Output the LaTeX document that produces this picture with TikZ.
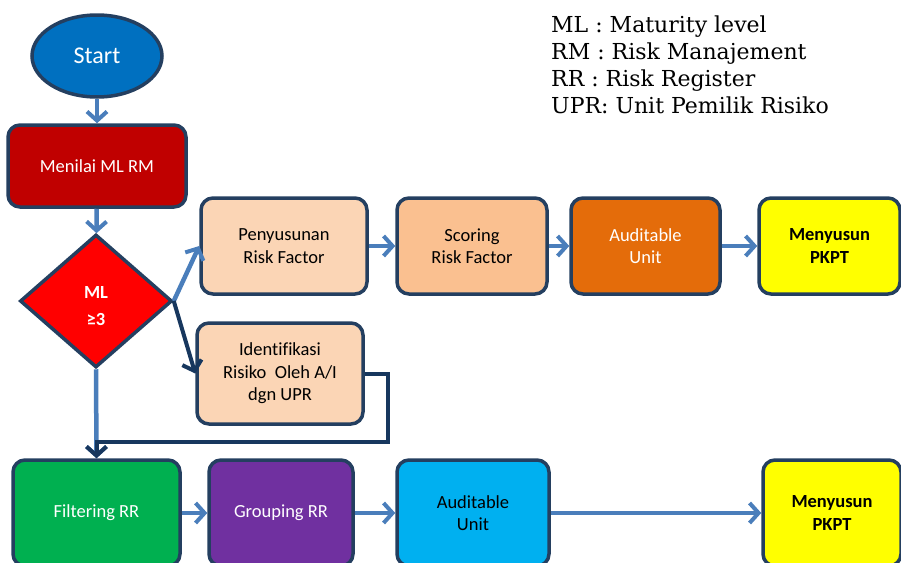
\documentclass[tikz,border=0pt]{standalone}
\usepackage{fontspec}
\setmainfont{Carlito}[Ligatures=NoCommon]
\newfontfamily\legendfont{DejaVu Serif}
\usetikzlibrary{shapes.geometric, arrows.meta, positioning}
\definecolor{edgedark}{RGB}{36, 63, 96}
\definecolor{flowblue}{RGB}{74, 126, 187}
\definecolor{flownavy}{RGB}{23, 55, 94}
\definecolor{startblue}{RGB}{0, 112, 192}
\definecolor{mlred}{RGB}{192, 0, 0}
\definecolor{peach}{RGB}{251, 213, 181}
\definecolor{peachdark}{RGB}{250, 192, 144}
\definecolor{unitorange}{RGB}{228, 108, 10}
\definecolor{pkptyellow}{RGB}{255, 255, 0}
\definecolor{rrgreen}{RGB}{0, 176, 80}
\definecolor{rrpurple}{RGB}{112, 48, 160}
\definecolor{unitcyan}{RGB}{0, 176, 240}
\tikzset{
    box/.style={
        rectangle, rounded corners=12pt, minimum width=150pt, minimum height=96pt,
        draw=edgedark, line width=3.5pt, text=black, font=\fontsize{18.5}{22.5}\selectfont,
        align=center, inner sep=2pt
    },
    whitebox/.style={box, text=white},
    pkptbox/.style={box, fill=pkptyellow, font=\fontsize{18.5}{22.5}\selectfont\bfseries},
    flowarrow/.style={-{Straight Barb[length=9pt, width=20pt, line width=4pt]}, line width=4.5pt, color=flowblue},
    navyarrow/.style={-{Straight Barb[length=9pt, width=20pt, line width=4pt]}, line width=4pt, color=flownavy},
    legend/.style={font=\legendfont\fontsize{22}{27}\selectfont, align=left, anchor=north west, inner sep=0pt},
}

\begin{document}
\begin{tikzpicture}[x=1pt, y=-1pt]
    \useasboundingbox (0,0) rectangle (901,562);
    \clip (0,0) rectangle (901,562);

    % legend
    \node[legend] (legend) at (551,16) {ML : Maturity level\\RM : Risk Manajement\\RR : Risk Register\\UPR: Unit Pemilik Risiko};

    % top part
    \node[ellipse, draw=edgedark, line width=3.5pt, fill=startblue, text=white, minimum width=130pt, minimum height=82pt, font=\fontsize{24}{28}\selectfont] (start) at (97,56) {Start};
    \node[whitebox, fill=mlred, minimum width=178pt, minimum height=82pt] (menilai) at (97,166) {Menilai ML RM};
    \node[diamond, draw=edgedark, line width=3.5pt, fill=red, text=white, minimum width=152pt, minimum height=133pt, inner sep=0pt, align=center, font=\fontsize{18.5}{27}\selectfont\bfseries] (ml) at (96,301) {\rule{0pt}{22pt}ML\\≥3};

    % ML >= 3 branch
    \node[box, fill=peach, minimum width=166pt] (susun) at (284,246) {Penyusunan\\Risk Factor};
    \node[box, fill=peachdark] (scoring) at (472,246) {Scoring\\Risk Factor};
    \node[whitebox, fill=unitorange, minimum width=149pt] (unitA) at (645.5,246) {Auditable\\Unit};
    \node[pkptbox, minimum width=141pt] (pkptA) at (829.5,246) {Menyusun\\PKPT};
    \node[box, fill=peach, minimum width=166pt, minimum height=101pt] (ident) at (280,373.5) {Identifikasi\\Risiko\ \ Oleh A/I\\dgn UPR};

    % RR branch
    \node[whitebox, fill=rrgreen, minimum width=167pt, minimum height=106pt] (filter) at (96.5,513) {Filtering RR};
    \node[whitebox, fill=rrpurple, minimum width=144pt, minimum height=106pt] (group) at (281,513) {Grouping RR};
    \node[box, fill=unitcyan, minimum width=152pt, minimum height=106pt] (unitB) at (473,513) {Auditable\\Unit};
    \node[pkptbox, minimum width=138pt, minimum height=106pt] (pkptB) at (832,513) {Menyusun\\PKPT};

    \coordinate (loop) at (388,442);

    % connectors
    \draw[flowarrow] (start) -- (menilai);
    \draw[flowarrow] (menilai) -- (ml);
    \draw[flowarrow] (ml.east) -- (susun.west);
    \draw[flowarrow] (susun) -- (scoring);
    \draw[flowarrow] (scoring) -- (unitA);
    \draw[flowarrow] (unitA) -- (pkptA);
    \draw[flowarrow] (ml.south) -- (filter.north);
    \draw[flowarrow] (filter) -- (group);
    \draw[flowarrow] (group) -- (unitB);
    \draw[flowarrow] (unitB) -- (pkptB);
    \draw[navyarrow] (ml.east) -- (ident.west);
    \draw[navyarrow] (ident.east) -| (loop) -- (filter.north |- loop) -- (filter.north);
\end{tikzpicture}
\end{document}
